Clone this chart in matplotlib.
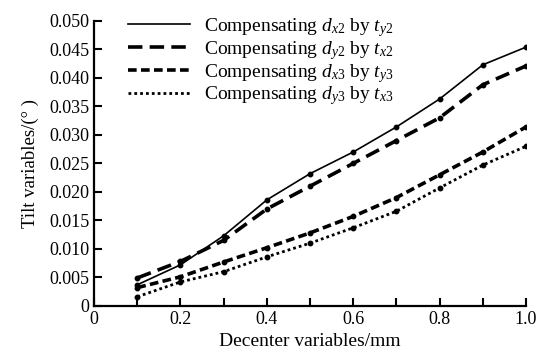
import matplotlib
matplotlib.use("Agg")
import matplotlib.pyplot as plt
from matplotlib.ticker import MultipleLocator

plt.rcParams["font.family"] = ["Liberation Serif", "DejaVu Serif"]
plt.rcParams["mathtext.fontset"] = "custom"
plt.rcParams["mathtext.rm"] = "Liberation Serif"
plt.rcParams["mathtext.it"] = "Liberation Serif:italic"

# Data
decenter = [0.1, 0.2, 0.3, 0.4, 0.5, 0.6, 0.7, 0.8, 0.9, 1.0]
tilt_dx2_ty2 = [0.0037, 0.0072, 0.0123, 0.0186, 0.0232, 0.0270, 0.0314, 0.0363, 0.0423, 0.0454]
tilt_dy2_tx2 = [0.0049, 0.0078, 0.0115, 0.0170, 0.0210, 0.0250, 0.0290, 0.0330, 0.0388, 0.0421]
tilt_dx3_ty3 = [0.0032, 0.0051, 0.0077, 0.0102, 0.0128, 0.0157, 0.0190, 0.0230, 0.0270, 0.0314]
tilt_dy3_tx3 = [0.0016, 0.0042, 0.0060, 0.0086, 0.0110, 0.0137, 0.0166, 0.0207, 0.0247, 0.0280]

labels = [r"Compensating $d_{x2}$ by $t_{y2}$",
          r"Compensating $d_{y2}$ by $t_{x2}$",
          r"Compensating $d_{x3}$ by $t_{y3}$",
          r"Compensating $d_{y3}$ by $t_{x3}$"]

fig = plt.figure(figsize=(5.44, 3.54), dpi=100)
ax = fig.add_axes([0.173, 0.136, 0.794, 0.805])

ax.plot(decenter, tilt_dx2_ty2, color="black", lw=1.2, ls="-",
        marker="o", ms=3.2, label=labels[0])
ax.plot(decenter, tilt_dy2_tx2, color="black", lw=2.6, ls=(0, (4, 2)),
        marker="o", ms=3.2, label=labels[1])
ax.plot(decenter, tilt_dx3_ty3, color="black", lw=2.6, ls=(0, (2.4, 1.2)),
        marker="o", ms=3.2, label=labels[2])
ax.plot(decenter, tilt_dy3_tx3, color="black", lw=2.0, ls=(0, (1, 1.1)),
        marker="o", ms=3.2, label=labels[3])

ax.set_xlim(0, 1.0)
ax.set_ylim(0, 0.050)
ax.xaxis.set_major_locator(MultipleLocator(0.2))
ax.xaxis.set_minor_locator(MultipleLocator(0.1))
ax.yaxis.set_major_locator(MultipleLocator(0.005))

# Zero labels are plain "0"
ax.xaxis.set_major_formatter(plt.FuncFormatter(lambda v, p: "0" if abs(v) < 1e-9 else "%.1f" % v))
ax.yaxis.set_major_formatter(plt.FuncFormatter(lambda v, p: "0" if abs(v) < 1e-9 else "%.3f" % v))

ax.tick_params(which="both", direction="in", labelsize=13, width=1.5, length=6)

for side in ["top", "right"]:
    ax.spines[side].set_visible(False)
for side in ["left", "bottom"]:
    ax.spines[side].set_linewidth(1.6)

ax.set_xlabel("Decenter variables/mm", fontsize=14)
ax.set_ylabel("Tilt variables/(° )", fontsize=13.5, labelpad=7)

leg = ax.legend(loc="upper left", bbox_to_anchor=(0.06, 1.045), frameon=False,
                fontsize=14, handlelength=3.2, handletextpad=0.7, labelspacing=0.0,
                borderaxespad=0.0)
for h in leg.legend_handles:
    h.set_marker("")

fig.savefig("out.png", dpi=100)
